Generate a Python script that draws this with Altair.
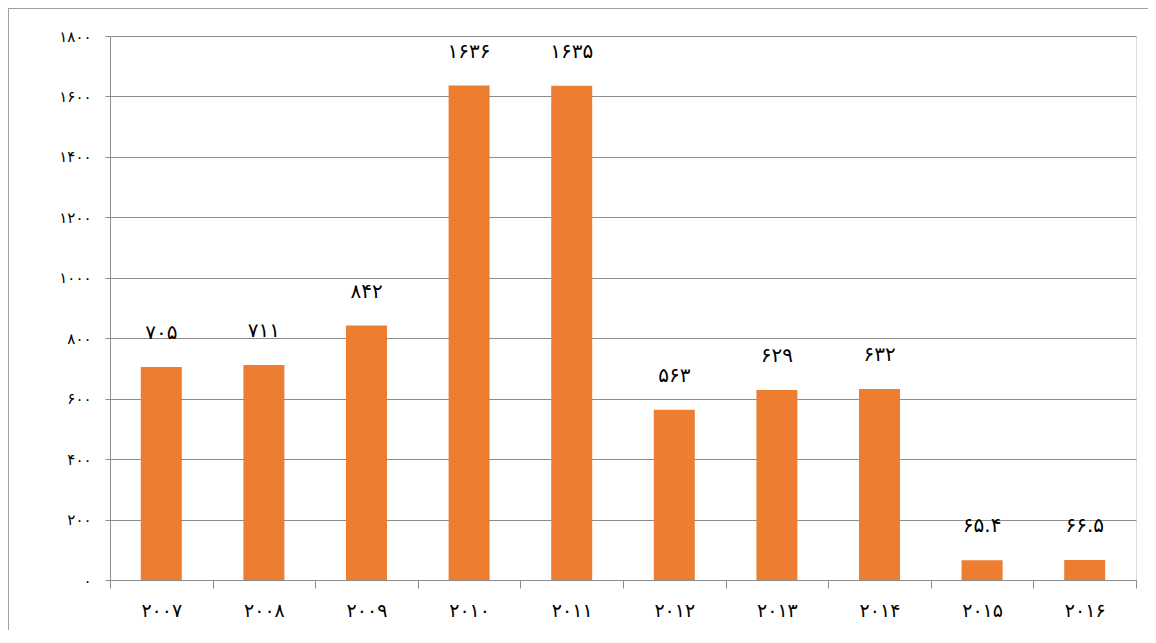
import altair as alt
import pandas as pd

years = ["۲۰۰۷", "۲۰۰۸", "۲۰۰۹", "۲۰۱۰", "۲۰۱۱", "۲۰۱۲", "۲۰۱۳", "۲۰۱۴", "۲۰۱۵", "۲۰۱۶"]
values = [705, 711, 842, 1636, 1635, 563, 629, 632, 65.4, 66.5]
value_labels = ["۷۰۵", "۷۱۱", "۸۴۲", "۱۶۳۶", "۱۶۳۵", "۵۶۳", "۶۲۹", "۶۳۲", "۶۵.۴", "۶۶.۵"]
y_ticks = [0, 200, 400, 600, 800, 1000, 1200, 1400, 1600, 1800]
y_tick_labels = ["۰", "۲۰۰", "۴۰۰", "۶۰۰", "۸۰۰", "۱۰۰۰", "۱۲۰۰", "۱۴۰۰", "۱۶۰۰", "۱۸۰۰"]

df = pd.DataFrame({"year": years, "value": values, "label": value_labels})

expr = "''"
for v, l in reversed(list(zip(y_ticks, y_tick_labels))):
    expr = f"datum.value == {v} ? '{l}' : ({expr})"

FONT = "DejaVu Sans"
GRAY = "#8c8c8c"

x = alt.X("year:N", sort=years, title=None,
          scale=alt.Scale(paddingInner=0, paddingOuter=0),
          axis=alt.Axis(labelAngle=0, tickBand="extent", tickSize=8, labelPadding=13,
                        labelFontSize=19, labelFont=FONT, labelColor="#000000",
                        domainColor=GRAY, tickColor=GRAY, grid=False))
y = alt.Y("value:Q", title=None,
          scale=alt.Scale(domain=[0, 1800], nice=False),
          axis=alt.Axis(values=y_ticks, labelExpr=expr, tickSize=5, labelPadding=14,
                        labelFontSize=15, labelFont=FONT, labelColor="#000000",
                        domainColor=GRAY, tickColor=GRAY, gridColor=GRAY, gridWidth=1))

bars = alt.Chart(df).mark_bar(color="#ED7D31", size=41).encode(x=x, y=y)
text = alt.Chart(df).mark_text(baseline="bottom", dy=-24, fontSize=20, font=FONT,
                               color="#000000").encode(x=alt.X("year:N", sort=years), y="value:Q", text="label:N")

frame_top = alt.Chart(df).mark_rule(color="#a0a0a0", strokeWidth=1.5).encode(
    x=alt.value(-102), x2=alt.value(1040), y=alt.value(-28))
frame_left = alt.Chart(df).mark_rule(color="#a0a0a0", strokeWidth=1.5).encode(
    x=alt.value(-102), y=alt.value(-28), y2=alt.value(620))

chart = alt.layer(bars, text, frame_top, frame_left).properties(
    width=1026, height=544,
    autosize=alt.AutoSizeParams(type="none"),
    padding={"left": 102, "top": 28, "right": 12, "bottom": 50},
).configure_view(stroke=None).configure(background="#ffffff")

chart.save("out.html", embed_options={"renderer": "svg", "actions": False})
